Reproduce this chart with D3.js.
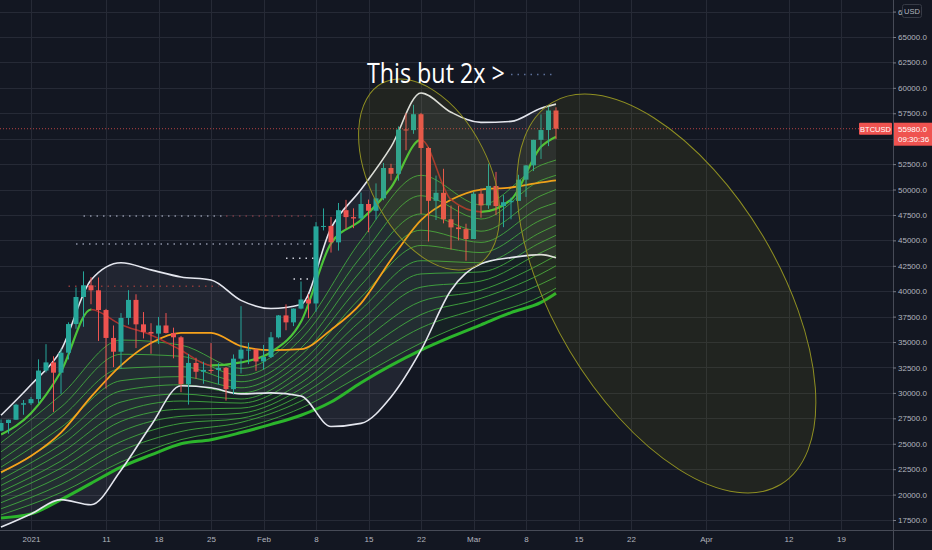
<!DOCTYPE html>
<html>
<head>
<meta charset="utf-8">
<script src="https://cdn.jsdelivr.net/npm/d3@7"></script>
<style>
  html, body { margin: 0; padding: 0; background: #131722; }
  svg { display: block; }
</style>
</head>
<body>
<svg id="chart" width="932" height="550"></svg>
<script>
// daily candles: date, open, high, low, close
const candles = [
  ['2020-12-28', 26273, 27389, 26207, 27039],
  ['2020-12-29', 27039, 27370, 25987, 27361],
  ['2020-12-30', 27361, 28937, 27360, 28841],
  ['2020-12-31', 28841, 29300, 27850, 28983],
  ['2021-01-01', 28983, 29600, 28803, 29393],
  ['2021-01-02', 29393, 33300, 29000, 32195],
  ['2021-01-03', 32195, 34792, 32000, 33000],
  ['2021-01-04', 33000, 33600, 28130, 31988],
  ['2021-01-05', 31988, 34360, 29900, 33950],
  ['2021-01-06', 33950, 36939, 33288, 36770],
  ['2021-01-07', 36770, 40365, 36300, 39432],
  ['2021-01-08', 39432, 41950, 36500, 40582],
  ['2021-01-09', 40582, 41380, 38720, 40088],
  ['2021-01-10', 40088, 41350, 35111, 38150],
  ['2021-01-11', 38150, 38264, 30420, 35404],
  ['2021-01-12', 35404, 36628, 32531, 34051],
  ['2021-01-13', 34051, 37850, 32380, 37372],
  ['2021-01-14', 37372, 40100, 36701, 39145],
  ['2021-01-15', 39145, 39700, 34408, 36742],
  ['2021-01-16', 36742, 37950, 35357, 35994],
  ['2021-01-17', 35994, 36852, 33850, 35828],
  ['2021-01-18', 35828, 37469, 34800, 36631],
  ['2021-01-19', 36631, 37850, 35844, 35891],
  ['2021-01-20', 35891, 36415, 33400, 35468],
  ['2021-01-21', 35468, 35600, 30071, 30850],
  ['2021-01-22', 30850, 33826, 28850, 32945],
  ['2021-01-23', 32945, 33456, 31390, 32078],
  ['2021-01-24', 32078, 33071, 30900, 32259],
  ['2021-01-25', 32259, 34900, 31910, 32254],
  ['2021-01-26', 32254, 32921, 30837, 32467],
  ['2021-01-27', 32467, 32557, 29241, 30366],
  ['2021-01-28', 30366, 33783, 29842, 33364],
  ['2021-01-29', 33364, 38531, 31915, 34252],
  ['2021-01-30', 34252, 34933, 32825, 34262],
  ['2021-01-31', 34262, 34342, 32171, 33092],
  ['2021-02-01', 33092, 34717, 32296, 33526],
  ['2021-02-02', 33526, 35987, 33418, 35466],
  ['2021-02-03', 35466, 37662, 35362, 37619],
  ['2021-02-04', 37619, 38708, 36161, 36936],
  ['2021-02-05', 36936, 38310, 36570, 38290],
  ['2021-02-06', 38290, 40955, 38215, 39186],
  ['2021-02-07', 39186, 39700, 37351, 38795],
  ['2021-02-08', 38795, 46794, 37988, 46374],
  ['2021-02-09', 46374, 48142, 45979, 46420],
  ['2021-02-10', 46420, 47310, 43800, 44807],
  ['2021-02-11', 44807, 48678, 43994, 47969],
  ['2021-02-12', 47969, 48985, 46125, 47287],
  ['2021-02-13', 47287, 48150, 46202, 47153],
  ['2021-02-14', 47153, 49707, 47015, 48577],
  ['2021-02-15', 48577, 49010, 45800, 47911],
  ['2021-02-16', 47911, 50602, 47051, 49133],
  ['2021-02-17', 49133, 52618, 48947, 52119],
  ['2021-02-18', 52119, 52530, 50901, 51553],
  ['2021-02-19', 51553, 56209, 50875, 55906],
  ['2021-02-20', 55906, 57505, 53863, 55841],
  ['2021-02-21', 55841, 58330, 55477, 57408],
  ['2021-02-22', 57408, 57534, 47600, 54087],
  ['2021-02-23', 54087, 54183, 44892, 48891],
  ['2021-02-24', 48891, 51374, 47003, 49676],
  ['2021-02-25', 49676, 52041, 46674, 47073],
  ['2021-02-26', 47073, 48424, 44106, 46276],
  ['2021-02-27', 46276, 48394, 45000, 46106],
  ['2021-02-28', 46106, 46638, 43000, 45135],
  ['2021-03-01', 45135, 49791, 45135, 49587],
  ['2021-03-02', 49587, 50128, 47228, 48440],
  ['2021-03-03', 48440, 52536, 48101, 50349],
  ['2021-03-04', 50349, 51735, 47500, 48374],
  ['2021-03-05', 48374, 49448, 46300, 48751],
  ['2021-03-06', 48751, 49200, 47070, 48882],
  ['2021-03-07', 48882, 51450, 48882, 50971],
  ['2021-03-08', 50971, 52402, 49274, 52375],
  ['2021-03-09', 52375, 54895, 51815, 54884],
  ['2021-03-10', 54884, 57387, 53005, 55851],
  ['2021-03-11', 55851, 58150, 54269, 57773],
  ['2021-03-12', 57773, 58081, 54962, 55980]
]

// indicator lines (every 4 days)
const lineDates = ['2020-12-28', '2021-01-01', '2021-01-05', '2021-01-09', '2021-01-13',
  '2021-01-17', '2021-01-21', '2021-01-25', '2021-01-29', '2021-02-02', '2021-02-06',
  '2021-02-10', '2021-02-14', '2021-02-18', '2021-02-22', '2021-02-26', '2021-03-02',
  '2021-03-06', '2021-03-10', '2021-03-12']
const bbUpper = [27800, 30800, 34200, 41100, 42800, 42100, 41400, 41100, 39100, 38300,
  38700, 46200, 50000, 54200, 59500, 57600, 56600, 56700, 58000, 58400]
const bbLower = [16800, 18100, 19500, 19000, 22400, 26800, 30700, 30500, 29900, 30000,
  29700, 26700, 27000, 29600, 34200, 40100, 42700, 43300, 43600, 43300]
const bbBasis = [22200, 23800, 26100, 29600, 32700, 34900, 35900, 35900, 34600, 34200,
  34300, 36200, 38800, 43100, 47000, 49000, 50000, 50200, 50700, 50900]
const fastLine = [25900, 28000, 32100, 38200, 36700, 35700, 34200, 32700, 33000, 34000,
  37000, 44700, 47000, 50200, 54900, 49000, 47800, 49000, 54200, 55200]
const slowLine = [17700, 18100, 19500, 21100, 22700, 23900, 25000, 25400, 26100, 26900,
  27800, 29100, 31000, 32700, 34200, 35500, 36700, 37900, 38900, 39800]

// thin ribbon lines (every 8 days)
const ribbonDates = ['2020-12-28', '2021-01-05', '2021-01-13', '2021-01-21', '2021-01-29',
  '2021-02-06', '2021-02-14', '2021-02-22', '2021-03-02', '2021-03-10', '2021-03-12']
const ribbonLines = [
  [25100, 29800, 35200, 34700, 32400, 36200, 45000, 51400, 48500, 52400, 52900],
  [24200, 28600, 33800, 33600, 31700, 35300, 43400, 49400, 47100, 50900, 51400],
  [23400, 27600, 32400, 32600, 31100, 34400, 42000, 47600, 45900, 49400, 50000],
  [22700, 26600, 31200, 31600, 30500, 33700, 40600, 46000, 44800, 48200, 48700],
  [22100, 25700, 30200, 30800, 30000, 33000, 39400, 44500, 43800, 47000, 47600],
  [21500, 24900, 29100, 29900, 29400, 32300, 38200, 43000, 42800, 45800, 46500],
  [20900, 24100, 28100, 29200, 29000, 31700, 37100, 41700, 41900, 44800, 45500],
  [20300, 23300, 27200, 28400, 28500, 31000, 36100, 40400, 41000, 43800, 44500],
  [19800, 22600, 26200, 27700, 28000, 30400, 35000, 39000, 40100, 42700, 43500],
  [19200, 21800, 25200, 27000, 27500, 29800, 33900, 37700, 39300, 41700, 42500],
  [18600, 21000, 24300, 26200, 27100, 29200, 32900, 36400, 38400, 40700, 41400],
  [18000, 20200, 23200, 25400, 26500, 28500, 31700, 34900, 37400, 39500, 40300]
]

// dotted level lines: from, to, price
const dotLevels = [
  ['2021-01-08', '2021-01-27', 47400],
  ['2021-01-27', '2021-02-08', 47400],
  ['2021-01-07', '2021-02-08', 44650],
  ['2021-02-04', '2021-02-08', 43250],
  ['2021-02-05', '2021-02-08', 41200],
  ['2021-01-06', '2021-01-26', 40500],
  ['2021-03-06', '2021-03-12', 61300]
]

// annotations
const noteText = 'This but 2x >'
const noteAnchor = ['2021-02-14T19:00Z', 60480]
const ellipseCenters = [['2021-02-23T02:00Z', 51480], ['2021-03-26T17:00Z', 39770]]

const priceTicks = [17500, 20000, 22500, 25000, 27500, 30000, 32500, 35000, 37500, 40000,
  42500, 45000, 47500, 50000, 52500, 55000, 57500, 60000, 62500, 65000, 67500]
const timeTickDates = ['2021-01-01', '2021-01-11', '2021-01-18', '2021-01-25', '2021-02-01',
  '2021-02-08', '2021-02-15', '2021-02-22', '2021-03-01', '2021-03-08', '2021-03-15',
  '2021-03-22', '2021-04-01', '2021-04-12', '2021-04-19']
const timeTickLabels = ['2021', '11', '18', '25', 'Feb', '8', '15', '22', 'Mar', '8', '15',
  '22', 'Apr', '12', '19']

const symbol = 'BTCUSD'
const lastPrice = 55980
const countdown = '09:30:36'
const currency = 'USD'

// layout / styles
const plotRight = 893
const plotBottom = 530
const levelColors = ['#8d93a6', '#7a3b45', '#8d93a6', '#c9ccd6', '#d6d8e0', '#8a3a3a', '#5c6f99']
const ellipseShapes = [{ rx: 102.7, ry: 59.6, angle: 63.2 }, { rx: 222.5, ry: 112.4, angle: 59.1 }]
const axisFont = "'Liberation Sans', Arial, sans-serif"

const toDate = s => new Date(s.length > 10 ? s : s + 'T00:00:00Z')

const svg = d3.select('#chart')

const x = d3.scaleUtc()
  .domain([toDate('2021-01-01'), toDate('2021-04-19')])
  .range([31, 841])
const y = d3.scaleLinear()
  .domain([17500, 65000])
  .range([520, 37])

svg.append('rect')
  .attr('width', 932).attr('height', 550)
  .attr('fill', '#131722')

svg.append('clipPath').attr('id', 'plotClip')
  .append('rect')
  .attr('x', 0).attr('y', 0)
  .attr('width', plotRight).attr('height', plotBottom)

// grid
const grid = svg.append('g').attr('clip-path', 'url(#plotClip)')
grid.selectAll('.hgrid')
  .data(priceTicks)
  .enter().append('line')
  .attr('x1', 0).attr('x2', plotRight)
  .attr('y1', d => Math.round(y(d)) + 0.5).attr('y2', d => Math.round(y(d)) + 0.5)
  .attr('stroke', '#262a36')
grid.selectAll('.vgrid')
  .data(timeTickDates)
  .enter().append('line')
  .attr('x1', d => Math.round(x(toDate(d))) + 0.5).attr('x2', d => Math.round(x(toDate(d))) + 0.5)
  .attr('y1', 0).attr('y2', plotBottom)
  .attr('stroke', '#262a36')

const plot = svg.append('g').attr('clip-path', 'url(#plotClip)')

// bollinger band fill
const lineRows = lineDates.map((d, i) => ({
  date: toDate(d), upper: bbUpper[i], lower: bbLower[i], basis: bbBasis[i],
  fast: fastLine[i], slow: slowLine[i]
}))

plot.append('path')
  .datum(lineRows)
  .attr('fill', 'rgba(200,205,225,0.08)')
  .attr('d', d3.area()
    .x(d => x(d.date))
    .y0(d => y(d.lower))
    .y1(d => y(d.upper))
    .curve(d3.curveMonotoneX))

// ribbon
const ribbonX = ribbonDates.map(toDate)
plot.append('path')
  .datum(ribbonX.map((d, i) => ({ date: d, top: ribbonLines[0][i], bot: ribbonLines[ribbonLines.length - 1][i] })))
  .attr('fill', 'rgba(70,170,70,0.07)')
  .attr('d', d3.area()
    .x(d => x(d.date))
    .y0(d => y(d.bot))
    .y1(d => y(d.top))
    .curve(d3.curveMonotoneX))

const ribbonLine = d3.line()
  .x((d, i) => x(ribbonX[i]))
  .y(d => y(d))
  .curve(d3.curveMonotoneX)
plot.selectAll('.ribbon')
  .data(ribbonLines)
  .enter().append('path')
  .attr('class', 'ribbon')
  .attr('fill', 'none')
  .attr('stroke', '#41a83f')
  .attr('stroke-opacity', 0.9)
  .attr('stroke-width', 1)
  .attr('d', ribbonLine)

function drawLine(key, color, width) {
  return plot.append('path')
    .datum(lineRows)
    .attr('fill', 'none')
    .attr('stroke', color)
    .attr('stroke-width', width)
    .attr('stroke-linejoin', 'round')
    .attr('d', d3.line()
      .x(d => x(d.date))
      .y(d => y(d[key]))
      .curve(d3.curveMonotoneX))
}

drawLine('slow', '#2cb52c', 3)
drawLine('upper', '#e4e6ee', 1.6)
drawLine('lower', '#e4e6ee', 1.6)
drawLine('basis', '#f7a21b', 1.8)

// fast line: green while rising, red while falling
const fallClip = svg.append('clipPath').attr('id', 'fallClip')
const riseClip = svg.append('clipPath').attr('id', 'riseClip')
for (let i = 0; i < lineRows.length - 1; i++) {
  const target = lineRows[i + 1].fast < lineRows[i].fast ? fallClip : riseClip
  target.append('rect')
    .attr('x', x(lineRows[i].date)).attr('y', 0)
    .attr('width', x(lineRows[i + 1].date) - x(lineRows[i].date) + 0.5)
    .attr('height', plotBottom)
}
drawLine('fast', '#4cc43a', 2.2).attr('clip-path', 'url(#riseClip)')
drawLine('fast', '#a8322f', 1.6).attr('clip-path', 'url(#fallClip)')

// dotted level lines
plot.selectAll('.level')
  .data(dotLevels)
  .enter().append('line')
  .attr('x1', d => x(toDate(d[0])))
  .attr('x2', d => x(toDate(d[1])))
  .attr('y1', d => y(d[2])).attr('y2', d => y(d[2]))
  .attr('stroke', (d, i) => levelColors[i])
  .attr('stroke-width', 1.5)
  .attr('stroke-dasharray', '1.5,5')

// current price line
plot.append('line')
  .attr('x1', 0).attr('x2', plotRight)
  .attr('y1', y(lastPrice)).attr('y2', y(lastPrice))
  .attr('stroke', '#ef5350')
  .attr('stroke-opacity', 0.75)
  .attr('stroke-dasharray', '1,2')

// candles
const candleRows = candles.map(c => ({ date: toDate(c[0]), o: c[1], h: c[2], l: c[3], c: c[4] }))
const candleG = plot.selectAll('.candle')
  .data(candleRows)
  .enter().append('g')
  .attr('class', 'candle')
  .attr('transform', d => 'translate(' + x(d.date) + ',0)')
candleG.append('line')
  .attr('x1', 0).attr('x2', 0)
  .attr('y1', d => y(d.h)).attr('y2', d => y(d.l))
  .attr('stroke', d => d.c >= d.o ? '#26a69a' : '#ef5350')
candleG.append('rect')
  .attr('x', -2.5).attr('width', 5)
  .attr('y', d => y(Math.max(d.o, d.c)))
  .attr('height', d => Math.max(1, Math.abs(y(d.o) - y(d.c))))
  .attr('fill', d => d.c >= d.o ? '#26a69a' : '#ef5350')

// ellipses
plot.selectAll('.ellipse')
  .data(ellipseCenters)
  .enter().append('ellipse')
  .attr('cx', 0).attr('cy', 0)
  .attr('rx', (d, i) => ellipseShapes[i].rx)
  .attr('ry', (d, i) => ellipseShapes[i].ry)
  .attr('transform', (d, i) => 'translate(' + x(toDate(d[0])) + ',' + y(d[1]) + ') rotate(' + ellipseShapes[i].angle + ')')
  .attr('fill', 'rgba(153,153,21,0.1)')
  .attr('stroke', '#8f8f22')
  .attr('stroke-width', 1)

// note text
plot.append('text')
  .attr('x', x(toDate(noteAnchor[0])))
  .attr('y', y(noteAnchor[1]))
  .attr('fill', '#ffffff')
  .style('font-family', "'Open Sans', sans-serif")
  .style('font-size', '27px')
  .attr('textLength', 138)
  .attr('lengthAdjust', 'spacingAndGlyphs')
  .text(noteText)

// axes
svg.append('line')
  .attr('x1', plotRight + 0.5).attr('x2', plotRight + 0.5)
  .attr('y1', 0).attr('y2', 550)
  .attr('stroke', '#474b57')
svg.append('line')
  .attr('x1', 0).attr('x2', 932)
  .attr('y1', plotBottom + 0.5).attr('y2', plotBottom + 0.5)
  .attr('stroke', '#474b57')

// the last price tag hides the tick label underneath it
const yLast = y(lastPrice)
const hiddenTick = d => Math.abs(y(d) - (yLast + 5)) < 11

svg.append('clipPath').attr('id', 'axisClip')
  .append('rect')
  .attr('x', plotRight).attr('y', 0)
  .attr('width', 8.5).attr('height', 20)
const yAxis = svg.append('g')
  .attr('transform', 'translate(' + plotRight + ',0)')
  .call(d3.axisRight(y).tickValues(priceTicks.filter(d => !hiddenTick(d)))
    .tickFormat(d3.format('.1f')).tickSize(3).tickPadding(2))
yAxis.select('.domain').remove()
yAxis.selectAll('line').attr('stroke', '#787b86')
yAxis.selectAll('text')
  .attr('fill', '#b2b5be')
  .style('font-family', axisFont)
  .style('font-size', '8px')
// top label sits partly under the currency box
yAxis.selectAll('.tick')
  .filter(d => d === priceTicks[priceTicks.length - 1])
  .select('text')
  .text(d => d3.format('.1f')(d).slice(0, 1))

const xAxis = svg.append('g')
  .attr('transform', 'translate(0,' + plotBottom + ')')
  .call(d3.axisBottom(x).tickValues(timeTickDates.map(toDate))
    .tickFormat((d, i) => timeTickLabels[i]).tickSize(0).tickPadding(6))
xAxis.select('.domain').remove()
xAxis.selectAll('text')
  .attr('fill', '#b2b5be')
  .style('font-family', axisFont)
  .style('font-size', '8px')

// currency box
svg.append('rect')
  .attr('x', 902.5).attr('y', 4.5).attr('width', 19).attr('height', 13).attr('rx', 2)
  .attr('fill', '#131722').attr('stroke', '#363a45')
svg.append('text')
  .attr('x', 912).attr('y', 14)
  .attr('text-anchor', 'middle')
  .attr('fill', '#b2b5be')
  .style('font-family', axisFont)
  .style('font-size', '7.5px')
  .text(currency)

// symbol and last price tags
svg.append('rect')
  .attr('x', 859).attr('y', yLast - 6).attr('width', 33).attr('height', 12).attr('rx', 1)
  .attr('fill', '#ef5350')
svg.append('text')
  .attr('x', 875.5).attr('y', yLast + 3)
  .attr('text-anchor', 'middle')
  .attr('fill', '#ffffff')
  .style('font-family', axisFont)
  .style('font-size', '7.5px')
  .text(symbol)
svg.append('rect')
  .attr('x', plotRight + 1).attr('y', yLast - 6).attr('width', 38).attr('height', 23)
  .attr('fill', '#ef5350')
svg.append('text')
  .attr('x', plotRight + 5).attr('y', yLast + 3)
  .attr('fill', '#ffffff')
  .style('font-family', axisFont)
  .style('font-size', '8px')
  .text(d3.format('.1f')(lastPrice))
svg.append('text')
  .attr('x', plotRight + 5).attr('y', yLast + 13.5)
  .attr('fill', '#ffffff')
  .style('font-family', axisFont)
  .style('font-size', '8px')
  .text(countdown)
</script>
</body>
</html>
